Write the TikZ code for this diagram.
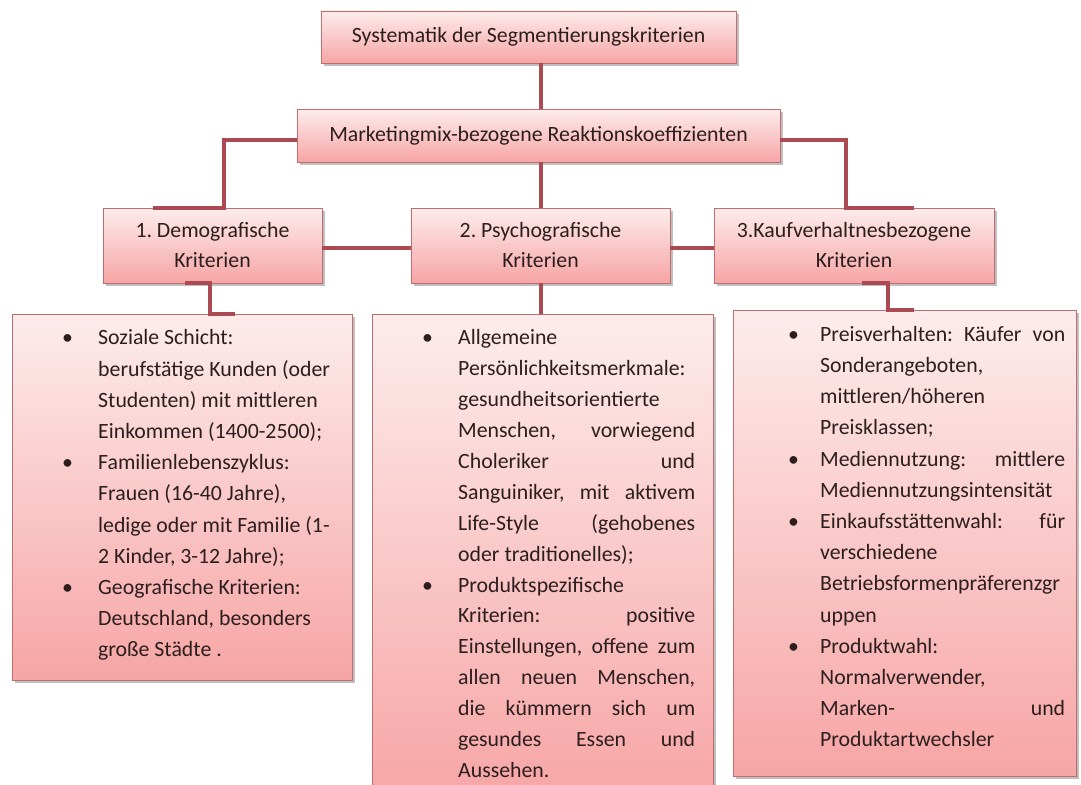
\documentclass[tikz,border=0pt]{standalone}
\usepackage{fontspec}
\setmainfont{Carlito}
\usetikzlibrary{shadows,calc}

\definecolor{txt}{RGB}{45,30,30}
\definecolor{conn}{RGB}{172,74,84}
\definecolor{bord}{RGB}{190,110,110}
\definecolor{ftop}{RGB}{253,236,236}
\definecolor{fbot}{RGB}{247,165,165}

\newlength{\bi}\setlength{\bi}{36pt}
\newlength{\tw}\setlength{\tw}{237pt}
\newcommand{\ns}{\frenchspacing\spaceskip=0pt\xspaceskip=0pt\relax}
\newcommand{\bl}[1]{\makebox[\bi][l]{\textbullet}#1}
\newcommand{\cl}[1]{\hspace*{\bi}#1}
\newcommand{\jl}[1]{\hspace*{\bi}\makebox[\tw][s]{#1}}
\newcommand{\jb}[1]{\makebox[\bi][l]{\textbullet}\makebox[\tw][s]{#1}}

\begin{document}
\begin{tikzpicture}[x=1pt,y=-1pt,
  box/.style={draw=bord, line width=0.8pt, top color=ftop, bottom color=fbot,
    inner sep=0pt, text=txt, align=center,
    font=\fontsize{21.8}{30}\selectfont,
    drop shadow={shadow xshift=2.5pt, shadow yshift=-3pt, fill=black!45, opacity=0.55}},
  bigbox/.style={box},
  listtext/.style={anchor=north west, inner sep=0pt, text=txt, align=left,
    font=\fontsize{21.8}{31.2}\selectfont},
  conn/.style={draw=conn, line width=4pt}]
\useasboundingbox (0,0) rectangle (1081,784);
\clip (0,0) rectangle (1081,784);
\fill[white] (0,0) rectangle (1081,784);

% level 0 / 1
\node[box, minimum width=415pt, minimum height=52pt] (top) at (528.5,37) {\ns Systematik der Segmentierungskriterien};
\node[box, minimum width=483pt, minimum height=53pt] (mk) at (538.5,135.5) {\ns Marketingmix-bezogene Reaktionskoeffizienten};

% level 2
\node[box, minimum width=219pt, minimum height=75pt] (d1) at (212.5,245.5) {\ns 1. Demografische\\\ns Kriterien};
\node[box, minimum width=259pt, minimum height=75pt] (d2) at (540.5,245.5) {\ns 2. Psychografische\\\ns Kriterien};
\node[box, minimum width=280pt, minimum height=75pt] (d3) at (854,245.5) {\ns 3.Kaufverhaltnesbezogene\\\ns Kriterien};

% level 3 boxes
\node[bigbox, minimum width=340pt, minimum height=366pt] (b1) at (182,497) {};
\node[bigbox, minimum width=341pt, minimum height=486pt] (b2) at (542.5,557) {};
\node[bigbox, minimum width=343pt, minimum height=466pt] (b3) at (904.5,543) {};

% texts
\node[listtext, text width=300pt] (t1) at (62,329.5) {\ns
\bl{Soziale Schicht:}\\
\cl{berufstätige Kunden (oder}\\
\cl{Studenten) mit mittleren}\\
\cl{Einkommen (1400-2500);}\\
\bl{Familienlebenszyklus:}\\
\cl{Frauen (16-40 Jahre),}\\
\cl{ledige oder mit Familie (1-}\\
\cl{2 Kinder, 3-12 Jahre);}\\
\bl{Geografische Kriterien:}\\
\cl{Deutschland, besonders}\\
\cl{große Städte .}};

\node[listtext, text width=290pt, font=\fontsize{21.8}{30.9}\selectfont] (t2) at (422,329.5) {\ns
\setlength{\bi}{36pt}\setlength{\tw}{237pt}%
\bl{Allgemeine}\\
\cl{Persönlichkeitsmerkmale:}\\
\cl{gesundheitsorientierte}\\
\jl{Menschen, vorwiegend}\\
\jl{Choleriker und}\\
\jl{Sanguiniker, mit aktivem}\\
\jl{Life-Style (gehobenes}\\
\cl{oder traditionelles);}\\
\bl{Produktspezifische}\\
\jl{Kriterien: positive}\\
\jl{Einstellungen, offene zum}\\
\jl{allen neuen Menschen,}\\
\jl{die kümmern sich um}\\
\jl{gesundes Essen und}\\
\cl{Aussehen.}};

\node[listtext, text width=290pt] (t3) at (788,326) {\ns
\setlength{\bi}{32pt}\setlength{\tw}{245pt}%
\jb{Preisverhalten: Käufer von}\\
\cl{Sonderangeboten,}\\
\cl{mittleren/höheren}\\
\cl{Preisklassen;}\\
\jb{Mediennutzung: mittlere}\\
\cl{Mediennutzungsintensität}\\
\jb{Einkaufsstättenwahl: für}\\
\cl{verschiedene}\\
\cl{Betriebsformenpräferenzgr}\\
\cl{uppen}\\
\bl{Produktwahl:}\\
\cl{Normalverwender,}\\
\jl{Marken- und}\\
\cl{Produktartwechsler}};

% helper x positions
\coordinate (c1) at (224,0);
\coordinate (c2) at (153,0);
\coordinate (c3) at (846,0);
\coordinate (c4) at (914,0);
\coordinate (c5) at (185,0);
\coordinate (c6) at (210,0);
\coordinate (c7) at (235,0);
\coordinate (c8) at (862,0);
\coordinate (c9) at (888,0);

% connectors
\draw[conn] (top.south -| d2.north) -- (mk.north -| d2.north);
\draw[conn] ([yshift=-4pt]mk.west) -| (c1 |- d1.north) -- (c2 |- d1.north);
\draw[conn] (mk.south -| d2.north) -- (d2.north);
\draw[conn] ([yshift=-4pt]mk.east) -| (c3 |- d3.north) -- (c4 |- d3.north);
\draw[conn] ([yshift=-2pt]d1.east) -- ([yshift=-2pt]d2.west);
\draw[conn] ([yshift=-2pt]d2.east) -- ([yshift=-2pt]d3.west);
\draw[conn] (c5 |- d1.south) -- (c6 |- d1.south) -- (c6 |- b1.north) -- (c7 |- b1.north);
\draw[conn] (d2.south) -- (d2.south |- b2.north);
\draw[conn] (c8 |- d3.south) -- (c9 |- d3.south) -- (c9 |- b3.north) -- (c4 |- b3.north);
\end{tikzpicture}
\end{document}
